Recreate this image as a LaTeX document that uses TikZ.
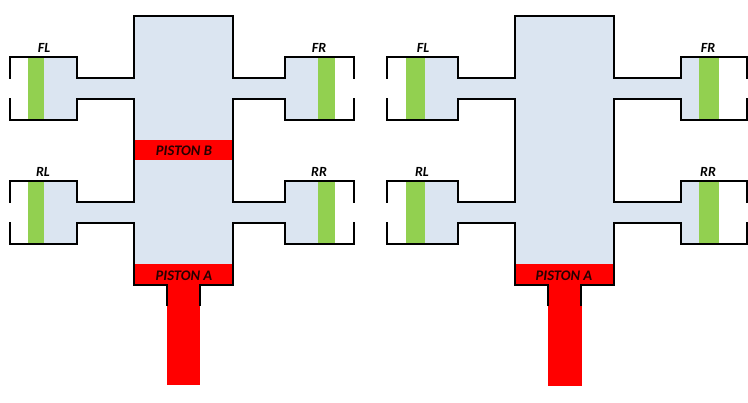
\documentclass[tikz,border=0pt]{standalone}
\usepackage{fontspec}
\setmainfont{Carlito}
\usetikzlibrary{positioning}
\definecolor{oilblue}{HTML}{DBE5F1}
\definecolor{padgreen}{HTML}{92D050}
\tikzset{
  wall/.style={draw=black,line width=2.4pt,line cap=rect},
  oil/.style={fill=oilblue},
  pad/.style={fill=padgreen},
  rod/.style={fill=red},
  caliperlabel/.style={font=\bfseries\itshape\fontsize{14}{14}\selectfont,inner sep=0pt},
  pistonlabel/.style={font=\bfseries\itshape\fontsize{14.6}{14.6}\selectfont,text=black!85!red,inner sep=0pt}
}
\begin{document}
\begin{tikzpicture}[x=1pt,y=-1pt]
  \useasboundingbox (0,0) rectangle (748,403);
  % left unit
  \fill[oil] (134,16) rectangle (233,285);
  \fill[oil] (77,78) rectangle (285,99);
  \fill[oil] (77,202) rectangle (285,223);
  \fill[oil] (44,57) rectangle (77,120);
  \fill[oil] (44,181) rectangle (77,244);
  \fill[oil] (285,57) rectangle (318,120);
  \fill[oil] (285,181) rectangle (318,244);
  \fill[pad] (28,57) rectangle (44,120);
  \fill[pad] (28,181) rectangle (44,244);
  \fill[pad] (318,57) rectangle (335,120);
  \fill[pad] (318,181) rectangle (335,244);
  \fill[rod] (167,285) rectangle (200,385);
  \fill[rod] (135,140) rectangle (232,160);
  \fill[rod] (135,264) rectangle (232,285);
  \node[pistonlabel] (pistonBL) at (184,151) {PISTON B};
  \node[pistonlabel] (pistonAL) at (184,276) {PISTON A};
  \draw[wall] (10,78)--(10,57)--(77,57)--(77,78)--(134,78)--(134,16)--(233,16)--(233,78)--(285,78)--(285,57)--(354,57)--(354,78);
  \draw[wall] (10,99)--(10,120)--(77,120)--(77,99)--(134,99)--(134,202)--(77,202)--(77,181)--(10,181)--(10,202);
  \draw[wall] (10,223)--(10,244)--(77,244)--(77,223)--(134,223)--(134,285)--(167,285)--(167,305);
  \draw[wall] (354,99)--(354,120)--(285,120)--(285,99)--(233,99)--(233,202)--(285,202)--(285,181)--(354,181)--(354,202);
  \draw[wall] (354,223)--(354,244)--(285,244)--(285,223)--(233,223)--(233,285)--(200,285)--(200,305);
  \node[caliperlabel] (flL) at (44,47.5) {FL};
  \node[caliperlabel] (rlL) at (43,171.5) {RL};
  \node[caliperlabel] (frL) at (319,47.5) {FR};
  \node[caliperlabel] (rrL) at (319,171.5) {RR};
  % right unit
  \fill[oil] (515,16) rectangle (614,285);
  \fill[oil] (458,78) rectangle (681,99);
  \fill[oil] (458,202) rectangle (681,223);
  \fill[oil] (425,57) rectangle (458,120);
  \fill[oil] (425,181) rectangle (458,244);
  \fill[oil] (681,57) rectangle (699,120);
  \fill[oil] (681,181) rectangle (699,244);
  \fill[pad] (406,57) rectangle (425,120);
  \fill[pad] (406,181) rectangle (425,244);
  \fill[pad] (699,57) rectangle (719,120);
  \fill[pad] (699,181) rectangle (719,244);
  \fill[rod] (548,285) rectangle (581.5,386);
  \fill[rod] (516,264) rectangle (613,285);
  \node[pistonlabel] (pistonAR) at (564,276) {PISTON A};
  \draw[wall] (387,78)--(387,57)--(458,57)--(458,78)--(515,78)--(515,16)--(614,16)--(614,78)--(681,78)--(681,57)--(747,57)--(747,78);
  \draw[wall] (387,99)--(387,120)--(458,120)--(458,99)--(515,99)--(515,202)--(458,202)--(458,181)--(387,181)--(387,202);
  \draw[wall] (387,223)--(387,244)--(458,244)--(458,223)--(515,223)--(515,285)--(548,285)--(548,305);
  \draw[wall] (747,99)--(747,120)--(681,120)--(681,99)--(614,99)--(614,202)--(681,202)--(681,181)--(747,181)--(747,202);
  \draw[wall] (747,223)--(747,244)--(681,244)--(681,223)--(614,223)--(614,285)--(581,285)--(581,305);
  \node[caliperlabel] (flR) at (423,47.5) {FL};
  \node[caliperlabel] (rlR) at (422,171.5) {RL};
  \node[caliperlabel] (frR) at (708,47.5) {FR};
  \node[caliperlabel] (rrR) at (708,171.5) {RR};
\end{tikzpicture}
\end{document}
